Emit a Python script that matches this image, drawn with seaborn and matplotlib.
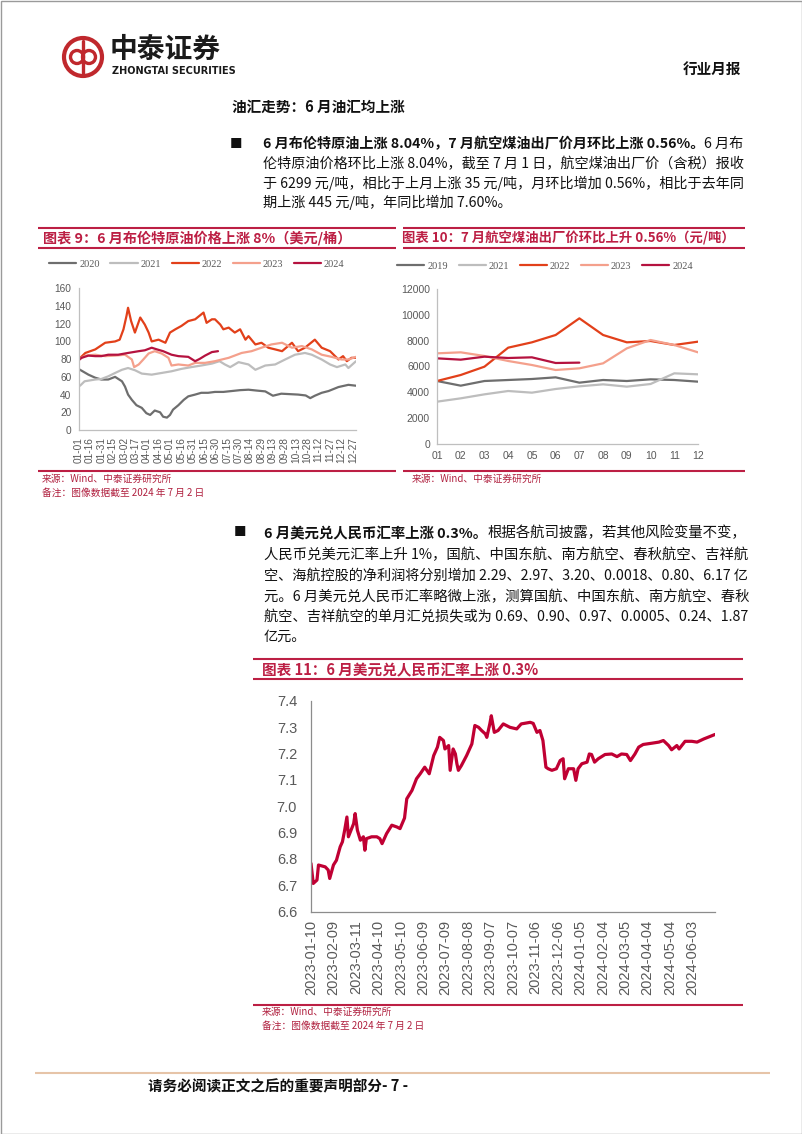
import numpy as np
import pandas as pd
import matplotlib
matplotlib.use('Agg')
import matplotlib.pyplot as plt
import seaborn as sns
from matplotlib.patches import Circle, Rectangle

# ---------------- data ----------------
brent_years = ['2020', '2021', '2022', '2023', '2024']
brent_2020_day = [0, 13, 22, 30, 39, 48, 57, 61, 65, 70, 76, 83, 89, 94, 100, 107, 111, 116, 120, 124,
                  131, 138, 144, 153, 161, 170, 179, 190, 201, 212, 223, 234, 245, 255, 266, 277, 288, 298,
                  304, 310, 319, 328, 341, 354, 364]
brent_2020 = [69, 62.5, 59, 57, 57, 60, 55, 49, 40, 34, 28, 25, 19, 17, 22, 20, 15, 14, 17, 23,
              28, 34, 38, 40, 42, 42, 43, 43, 44, 45, 45.5, 44.5, 43.6, 38.7, 41, 40.5, 40, 39,
              36, 38.7, 42, 44, 48.5, 51, 50]
brent_2021_day = [2, 8, 22, 30, 39, 48, 57, 65, 74, 83, 96, 109, 122, 135, 148, 161, 175, 185, 192, 199,
                  210, 223, 232, 245, 258, 271, 284, 297, 306, 319, 330, 339, 350, 354, 364]
brent_2021 = [50, 55, 57, 57.6, 60.6, 64.4, 68, 70, 67.5, 63.7, 62.5, 64.4, 66.3, 69, 71, 72.8, 75, 77.7, 74, 71,
              76.6, 74, 68, 72.8, 74, 79.6, 85, 87, 85, 79.6, 74, 71, 74, 70, 77.7]
brent_2022_day = [0, 9, 22, 35, 48, 54, 59, 63, 65, 69, 74, 81, 87, 92, 96, 105, 114, 120, 127, 135,
                  144, 153, 164, 168, 175, 179, 186, 190, 197, 205, 212, 219, 223, 232, 240, 249, 258, 267,
                  280, 288, 297, 310, 319, 330, 341, 347, 352, 358, 364]
brent_2022 = [79.6, 87, 91, 98.5, 100, 102, 113.7, 129, 138, 123, 110, 127, 119, 110, 100, 102, 98.5, 110, 113.7, 117.5,
              123, 125, 132.6, 121, 125, 125, 119, 113.7, 115.6, 110, 113.7, 102, 106, 96.6, 98.5, 92.9, 91, 89,
              98.5, 89, 92.9, 102, 92.9, 89, 79.6, 83.4, 77.7, 81.5, 81.5]
brent_2023_day = [0, 9, 22, 35, 48, 61, 70, 73, 79, 85, 92, 100, 109, 118, 122, 131, 144, 153, 166, 179,
                  197, 214, 227, 240, 253, 267, 280, 293, 306, 319, 332, 345, 354, 364]
brent_2023 = [79.6, 84, 85, 83.4, 84, 85, 79.6, 71, 74, 79.6, 86.4, 89, 86.4, 81.5, 72.8, 74, 72.8, 75.8, 75.8, 77.7,
              81.5, 87, 89, 92.9, 96.6, 98.5, 92.9, 94.8, 91, 85, 82.6, 79.6, 79.6, 82.6]
brent_2024_day = [0, 4, 13, 22, 30, 39, 52, 65, 79, 87, 96, 103, 111, 122, 131, 144, 153, 159, 166, 175, 183]
brent_2024 = [78.5, 81.5, 84, 83.4, 83.4, 85, 85, 87, 89, 90, 92.9, 91, 89, 85, 83.4, 82.6, 77.7, 80.3, 84, 88, 89]
brent_xticklabels = ['01-01', '01-16', '01-31', '02-15', '03-02', '03-17', '04-01', '04-16', '05-01',
                     '05-16', '05-31', '06-15', '06-30', '07-15', '07-30', '08-14', '08-29', '09-13',
                     '09-28', '10-13', '10-28', '11-12', '11-27', '12-12', '12-27']

jet_years = ['2019', '2021', '2022', '2023', '2024']
jet_months = ['01', '02', '03', '04', '05', '06', '07', '08', '09', '10', '11', '12']
jet_2019 = [4877, 4516, 4877, 4955, 5032, 5161, 4748, 4955, 4877, 5006, 4955, 4826]
jet_2021 = [3277, 3535, 3845, 4103, 3974, 4258, 4465, 4619, 4439, 4645, 5471, 5394]
jet_2022 = [4877, 5342, 5987, 7458, 7871, 8439, 9729, 8439, 7871, 7974, 7665, 7923]
jet_2023 = [7019, 7097, 6813, 6426, 6116, 5729, 5858, 6245, 7406, 8052, 7665, 7097]
jet_2024 = [6632, 6529, 6761, 6658, 6710, 6271, 6299]

fx_day = [0, 3, 8, 10, 19, 23, 25, 30, 34, 39, 42, 45, 48, 50, 57, 59, 62, 66, 70, 72, 74, 81, 88, 92, 95,
          101, 108, 115, 119, 125, 128, 135, 141, 146, 152, 158, 164, 169, 172, 177, 179, 184, 186, 190,
          193, 195, 197, 201, 208, 215, 219, 224, 228, 233, 235, 239, 241, 245, 250, 257, 266, 275, 281,
          293, 297, 302, 306, 310, 314, 317, 322, 328, 333, 337, 339, 344, 351, 354, 357, 362, 369, 372,
          375, 379, 384, 393, 402, 409, 415, 422, 427, 433, 438, 444, 456, 465, 471, 478, 482, 489, 492,
          500, 509, 516, 525, 533, 540]
fx_rate = [6.783, 6.707, 6.72, 6.777, 6.77, 6.758, 6.726, 6.777, 6.795, 6.846, 6.865, 6.909, 6.959, 6.884,
           6.934, 6.972, 6.909, 6.871, 6.884, 6.833, 6.877, 6.884, 6.884, 6.877, 6.858,
           6.896, 6.928, 6.921, 6.915, 6.955, 7.028, 7.06, 7.104, 7.123, 7.148, 7.123, 7.192, 7.224, 7.261,
           7.249, 7.217, 7.23, 7.136, 7.217,
           7.198, 7.161, 7.136, 7.154, 7.192, 7.236, 7.306, 7.299, 7.287, 7.274, 7.261, 7.312, 7.343,
           7.28, 7.287, 7.312, 7.299, 7.293, 7.312,
           7.318, 7.314, 7.28, 7.287, 7.249, 7.148, 7.142, 7.136, 7.142, 7.173, 7.18, 7.104, 7.142,
           7.142, 7.098, 7.142, 7.161, 7.167, 7.198,
           7.196, 7.167, 7.18, 7.196, 7.198, 7.188, 7.198, 7.196, 7.173, 7.198, 7.224, 7.234, 7.239,
           7.243, 7.249, 7.23, 7.214, 7.23, 7.217,
           7.246, 7.246, 7.243, 7.255, 7.264, 7.272]
fx_xticklabels = ['2023-01-10', '2023-02-09', '2023-03-11', '2023-04-10', '2023-05-10', '2023-06-09',
                  '2023-07-09', '2023-08-08', '2023-09-07', '2023-10-07', '2023-11-06', '2023-12-06',
                  '2024-01-05', '2024-02-04', '2024-03-05', '2024-04-04', '2024-05-04', '2024-06-03']

# ---------------- style ----------------
sns.set_theme(style='white')
plt.rcParams['font.family'] = ['Noto Sans CJK SC', 'DejaVu Sans']
plt.rcParams['axes.unicode_minus'] = False

RED = '#BC1F44'
SRC = '#B0203F'
year_colors = ['#6E6E6E', '#BDBDBD', '#E2401A', '#F4A08C', '#B5123F']
TXT = '#111111'

W, H = 802, 1134
fig = plt.figure(figsize=(W / 100, H / 100), dpi=100)
fig.patch.set_facecolor('white')
bg = fig.add_axes([0, 0, 1, 1], zorder=0)
bg.set_xlim(0, W)
bg.set_ylim(H, 0)
bg.axis('off')
renderer = fig.canvas.get_renderer()


def ax_rect(l, t, r, b):
    return [l / W, 1 - b / H, (r - l) / W, (b - t) / H]


def hline(x0, x1, y, color=RED, lw=1.5):
    bg.plot([x0, x1], [y, y], color=color, lw=lw, solid_capstyle='butt')


def seg_line(x, y, segs, size=10.2, target=None):
    """Draw a line made of bold / normal segments; optionally fit it to end at `target`."""
    def draw(sz):
        xs, objs = x, []
        for txt, bold in segs:
            t = bg.text(xs, y, txt, fontsize=sz, fontweight='bold' if bold else 'normal',
                        va='center', ha='left', color=TXT)
            xs = t.get_window_extent(renderer).x1
            objs.append(t)
        return xs, objs
    end, objs = draw(size)
    if target is not None:
        new = size * (target - x) / (end - x)
        new = min(max(new, size * 0.95), size * 1.05)
        for o in objs:
            o.remove()
        draw(new)


# page border
bg.add_patch(Rectangle((0.5, 0.5), W - 1, H - 1, fill=False, edgecolor='#9A9A9A', lw=1.0))

# logo
LOGO = '#C0282D'
bg.add_patch(Circle((83, 57), 19, fill=False, edgecolor=LOGO, lw=3.0))
bg.add_patch(Circle((77, 57), 6.5, fill=False, edgecolor=LOGO, lw=2.4))
bg.add_patch(Circle((89, 57), 6.5, fill=False, edgecolor=LOGO, lw=2.4))
bg.plot([83, 83], [41, 73], color=LOGO, lw=2.4)
bg.text(110, 50, '中泰证券', fontsize=20, fontweight='bold', color='#1a1a1a', va='center', ha='left')
bg.text(112, 71, 'ZHONGTAI SECURITIES', fontsize=7, fontweight='bold', color='#1a1a1a',
        va='center', ha='left', family='DejaVu Sans')
bg.text(741, 69, '行业月报', fontsize=10.5, fontweight='bold', color=TXT, va='center', ha='right')

# section heading
bg.text(232, 107, '油汇走势：6 月油汇均上涨', fontsize=10.5, fontweight='bold', color=TXT, va='center', ha='left')

# paragraph 1
bg.text(236, 144, '■', fontsize=9, color=TXT, va='center', ha='center')
p1 = [
    [('6 月布伦特原油上涨 8.04%，7 月航空煤油出厂价月环比上涨 0.56%。', True), ('6 月布', False)],
    [('伦特原油价格环比上涨 8.04%，截至 7 月 1 日，航空煤油出厂价（含税）报收', False)],
    [('于 6299 元/吨，相比于上月上涨 35 元/吨，月环比增加 0.56%，相比于去年同', False)],
    [('期上涨 445 元/吨，年同比增加 7.60%。', False)],
]
for i, (yy, segs) in enumerate(zip([144, 164, 183, 202], p1)):
    seg_line(263, yy, segs, target=742 if i < len(p1) - 1 else None)

# chart headers (9 & 10)
for x0, x1 in [(38, 396), (403, 745)]:
    hline(x0, x1, 228)
    hline(x0, x1, 248)
    hline(x0, x1, 471)
bg.text(43, 238, '图表 9：6 月布伦特原油价格上涨 8%（美元/桶）', fontsize=10.2, fontweight='bold',
        color=RED, va='center', ha='left')
bg.text(402, 238, '图表 10：7 月航空煤油出厂价环比上升 0.56%（元/吨）', fontsize=9.6, fontweight='bold',
        color=RED, va='center', ha='left')
bg.text(42, 479, '来源：Wind、中泰证券研究所', fontsize=7, color=SRC, va='center', ha='left')
bg.text(42, 493, '备注：图像数据截至 2024 年 7 月 2 日', fontsize=7, color=SRC, va='center', ha='left')
bg.text(412, 479, '来源：Wind、中泰证券研究所', fontsize=7, color=SRC, va='center', ha='left')

# paragraph 2
bg.text(240, 533, '■', fontsize=9, color=TXT, va='center', ha='center')
p2 = [
    [('6 月美元兑人民币汇率上涨 0.3%。', True), ('根据各航司披露，若其他风险变量不变，', False)],
    [('人民币兑美元汇率上升 1%，国航、中国东航、南方航空、春秋航空、吉祥航', False)],
    [('空、海航控股的净利润将分别增加 2.29、2.97、3.20、0.0018、0.80、6.17 亿', False)],
    [('元。6 月美元兑人民币汇率略微上涨，测算国航、中国东航、南方航空、春秋', False)],
    [('航空、吉祥航空的单月汇兑损失或为 0.69、0.90、0.97、0.0005、0.24、1.87', False)],
    [('亿元。', False)],
]
for i, (yy, segs) in enumerate(zip([533, 555, 576, 597, 617, 637], p2)):
    seg_line(264, yy, segs, target=747 if i < len(p2) - 1 else None)

# chart 11 header
hline(253, 743, 659)
hline(253, 743, 679)
hline(253, 743, 1005)
bg.text(262, 670, '图表 11：6 月美元兑人民币汇率上涨 0.3%', fontsize=10.5, fontweight='bold',
        color=RED, va='center', ha='left')
bg.text(262, 1012, '来源：Wind、中泰证券研究所', fontsize=7, color=SRC, va='center', ha='left')
bg.text(262, 1026, '备注：图像数据截至 2024 年 7 月 2 日', fontsize=7, color=SRC, va='center', ha='left')

# footer
hline(35, 770, 1073, color='#E6C4A8', lw=1.5)
bg.text(148, 1086, '请务必阅读正文之后的重要声明部分- 7 -', fontsize=10.5, fontweight='bold',
        color=TXT, va='center', ha='left')


def style_axes(ax, spine_color, labelcolor, labelsize, family='Liberation Sans'):
    sns.despine(ax=ax)
    for s in ['left', 'bottom']:
        ax.spines[s].set_color(spine_color)
        ax.spines[s].set_linewidth(0.9)
    ax.tick_params(axis='both', which='both', direction='out', length=3, width=0.8,
                   color=spine_color, labelcolor=labelcolor, labelsize=labelsize, pad=2)
    for lab in ax.get_xticklabels() + ax.get_yticklabels():
        lab.set_family(family)
    ax.set_xlabel('')
    ax.set_ylabel('')
    ax.grid(False)
    ax.patch.set_alpha(0)


# ---------------- chart 9 ----------------
ax1 = fig.add_axes(ax_rect(78.5, 288.3, 356, 430), zorder=2)
brent_days = [brent_2020_day, brent_2021_day, brent_2022_day, brent_2023_day, brent_2024_day]
brent_vals = [brent_2020, brent_2021, brent_2022, brent_2023, brent_2024]
df1 = pd.concat([pd.DataFrame({'day': d, 'price': v, 'year': y})
                 for y, d, v in zip(brent_years, brent_days, brent_vals)], ignore_index=True)
sns.lineplot(data=df1, x='day', y='price', hue='year', hue_order=brent_years,
             palette=dict(zip(brent_years, year_colors)), linewidth=1.6, estimator=None, ax=ax1)
ax1.set_xlim(0, 364)
ax1.set_ylim(0, 160)
ax1.set_yticks(range(0, 161, 20))
ax1.set_xticks(range(0, 361, 15))
ax1.set_xticklabels(brent_xticklabels, rotation=90)
style_axes(ax1, '#BFBFBF', '#595959', 7.3)
sns.move_legend(ax1, 'center', bbox_to_anchor=(197 / W, 1 - 264 / H), bbox_transform=fig.transFigure,
                ncol=5, frameon=False, title=None, handlelength=2.6, handletextpad=0.3,
                columnspacing=1.0, prop={'family': 'Liberation Serif', 'size': 7.5})
for t in ax1.get_legend().get_texts():
    t.set_color('#595959')

# ---------------- chart 10 ----------------
ax2 = fig.add_axes(ax_rect(437, 289, 698, 444), zorder=2)
jet_vals = [jet_2019, jet_2021, jet_2022, jet_2023, jet_2024]
df2 = pd.concat([pd.DataFrame({'month': np.arange(1, len(v) + 1), 'price': v, 'year': y})
                 for y, v in zip(jet_years, jet_vals)], ignore_index=True)
sns.lineplot(data=df2, x='month', y='price', hue='year', hue_order=jet_years,
             palette=dict(zip(jet_years, year_colors)), linewidth=1.6, estimator=None, ax=ax2)
ax2.set_xlim(1, 12)
ax2.set_ylim(0, 12000)
ax2.set_yticks(range(0, 12001, 2000))
ax2.set_xticks(range(1, 13))
ax2.set_xticklabels(jet_months)
style_axes(ax2, '#BFBFBF', '#595959', 7.5)
sns.move_legend(ax2, 'center', bbox_to_anchor=(545 / W, 1 - 266 / H), bbox_transform=fig.transFigure,
                ncol=5, frameon=False, title=None, handlelength=2.6, handletextpad=0.3,
                columnspacing=1.0, prop={'family': 'Liberation Serif', 'size': 7.5})
for t in ax2.get_legend().get_texts():
    t.set_color('#595959')

# ---------------- chart 11 ----------------
ax3 = fig.add_axes(ax_rect(311, 700.7, 715, 911.7), zorder=2)
sns.lineplot(x=fx_day, y=fx_rate, color='#C00033', linewidth=2.3, ax=ax3)
ax3.set_xlim(0, 540)
ax3.set_ylim(6.6, 7.4)
ax3.set_yticks(np.arange(6.6, 7.41, 0.1))
ax3.set_yticklabels([f'{v:.1f}' for v in np.arange(6.6, 7.41, 0.1)])
ax3.set_xticks(range(0, 541, 30))
ax3.set_xticklabels(fx_xticklabels + [''], rotation=90)
style_axes(ax3, '#8C8C8C', '#595959', 10.5)
ax3.tick_params(axis='both', length=4)
ax3.tick_params(axis='y', pad=6)

fig.savefig('out.png', dpi=100, facecolor='white')
